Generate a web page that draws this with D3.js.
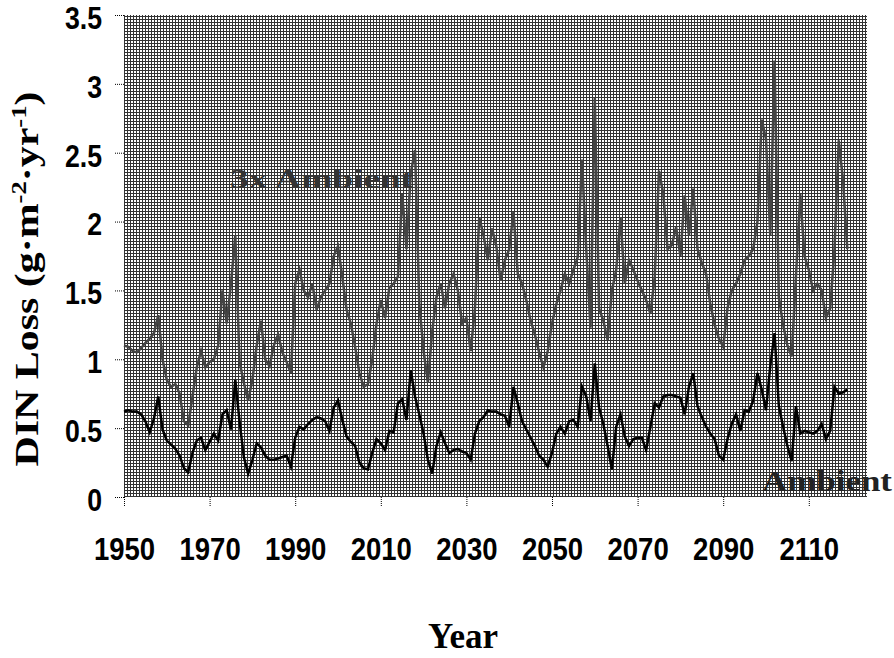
<!DOCTYPE html>
<html>
<head>
<meta charset="utf-8">
<script src="https://cdn.jsdelivr.net/npm/d3@7"></script>
<style>
  body { margin: 0; background: #fff; }
  svg { display: block; }
</style>
</head>
<body>
<div id="chart"></div>
<script>
// yearly DIN loss (1950 .. 2119)
var startYear = 1950;
var ambient = [
  .62, .63, .62, .62, .60, .55, .47, .57, .73, .49,
  .41, .38, .35, .30, .21, .18, .32, .41, .43, .34,
  .40, .46, .41, .60, .63, .49, .85, .55, .29, .17,
  .27, .39, .36, .30, .27, .27, .28, .29, .30, .22,
  .43, .51, .49, .53, .56, .58, .57, .55, .48, .65,
  .70, .56, .44, .40, .37, .25, .21, .20, .32, .42,
  .39, .34, .48, .47, .68, .71, .56, .92, .73, .60,
  .46, .27, .17, .37, .47, .39, .32, .34, .35, .33,
  .32, .27, .46, .55, .58, .63, .62, .62, .60, .59,
  .51, .80, .68, .55, .49, .43, .37, .30, .27, .22,
  .32, .46, .51, .46, .55, .56, .51, .80, .73, .55,
  .97, .65, .53, .37, .20, .51, .60, .44, .37, .42,
  .43, .43, .34, .51, .68, .65, .73, .74, .74, .73,
  .72, .60, .80, .90, .66, .58, .51, .46, .42, .30,
  .27, .42, .53, .60, .48, .63, .62, .70, .90, .78,
  .63, .95, 1.19, .66, .51, .37, .26, .66, .46, .48,
  .47, .46, .48, .53, .42, .48, .80, .75, .76, .78
];
var ambient3x = [
  1.10, 1.09, 1.06, 1.05, 1.08, 1.12, 1.15, 1.19, 1.32, 1.00,
  .85, .80, .82, .75, .55, .52, .73, .94, 1.06, .94,
  .98, 1.00, 1.10, 1.50, 1.26, 1.55, 1.90, .98, .83, .70,
  .85, 1.10, 1.28, 1.00, .95, 1.10, 1.18, 1.05, .98, .90,
  1.55, 1.65, 1.50, 1.45, 1.55, 1.36, 1.45, 1.50, 1.55, 1.75,
  1.82, 1.60, 1.36, 1.26, 1.09, .90, .80, .82, 1.00, 1.26,
  1.43, 1.30, 1.52, 1.55, 1.60, 2.20, 1.80, 2.35, 2.52, 1.40,
  1.06, .83, 1.20, 1.45, 1.55, 1.37, 1.55, 1.62, 1.50, 1.26,
  1.30, 1.06, 1.37, 2.03, 1.90, 1.72, 1.95, 1.82, 1.57, 1.72,
  1.80, 2.07, 1.62, 1.55, 1.43, 1.28, 1.18, 1.05, .94, 1.06,
  1.26, 1.40, 1.50, 1.62, 1.55, 1.65, 1.74, 2.45, 1.80, 1.23,
  2.90, 1.37, 1.28, 1.14, 1.50, 1.65, 2.03, 1.55, 1.72, 1.65,
  1.57, 1.50, 1.43, 1.33, 1.60, 2.37, 2.20, 1.80, 1.83, 1.96,
  1.75, 2.19, 1.90, 2.24, 1.80, 1.70, 1.62, 1.40, 1.25, 1.15,
  1.09, 1.37, 1.50, 1.55, 1.62, 1.72, 1.75, 1.80, 2.00, 2.74,
  2.60, 1.90, 3.17, 1.45, 1.25, 1.10, 1.02, 1.60, 2.20, 1.75,
  1.65, 1.50, 1.55, 1.50, 1.30, 1.37, 1.80, 2.59, 2.30, 1.80
];
var xTicks = [1950, 1970, 1990, 2010, 2030, 2050, 2070, 2090, 2110];
var yTicks = [0, 0.5, 1, 1.5, 2, 2.5, 3, 3.5];

var width = 894, height = 658;
var plotLeft = 124, plotRight = 867, plotTop = 15, plotBottom = 497;

var svg = d3.select("#chart").append("svg")
  .attr("width", width)
  .attr("height", height);

svg.append("rect").attr("width", width).attr("height", height).attr("fill", "#fff");

// stipple fill of the plot area
var pat = svg.append("defs").append("pattern")
  .attr("id", "stipple")
  .attr("patternUnits", "userSpaceOnUse")
  .attr("width", 3).attr("height", 3);
pat.append("rect").attr("width", 3).attr("height", 3).attr("fill", "#fff");
pat.append("rect").attr("x", 0).attr("y", 1).attr("width", 3).attr("height", 1).attr("fill", "#333");
pat.append("rect").attr("x", 1).attr("y", 0).attr("width", 1).attr("height", 3).attr("fill", "#333");

var x = d3.scaleLinear().domain([1950, 2123.6]).range([plotLeft, plotRight]);
var y = d3.scaleLinear().domain([0, 3.5]).range([plotBottom, plotTop]);

svg.append("rect")
  .attr("x", plotLeft).attr("y", plotTop)
  .attr("width", plotRight - plotLeft).attr("height", plotBottom - plotTop)
  .attr("fill", "url(#stipple)");

var line = d3.line()
  .x(function (d, i) { return x(startYear + i); })
  .y(function (d) { return y(d); });

svg.append("path")
  .datum(ambient3x)
  .attr("d", line)
  .attr("fill", "none")
  .attr("stroke", "#444")
  .attr("stroke-width", 2.5);

svg.append("path")
  .datum(ambient)
  .attr("d", line)
  .attr("fill", "none")
  .attr("stroke", "#000")
  .attr("stroke-width", 2.5);

// axes
var yAxis = svg.append("g")
  .attr("transform", "translate(" + plotLeft + ",0)")
  .call(d3.axisLeft(y).tickValues(yTicks).tickSize(9).tickPadding(13)
    .tickFormat(function (d) { return String(d); }));

var xAxis = svg.append("g")
  .attr("transform", "translate(0," + plotBottom + ")")
  .call(d3.axisBottom(x).tickValues(xTicks).tickSize(10).tickPadding(30)
    .tickFormat(d3.format("d")));

[yAxis, xAxis].forEach(function (g, k) {
  g.select(".domain").remove();
  g.selectAll(".tick line").attr("stroke", "#000").attr("stroke-dasharray", "1,1");
  g.selectAll(".tick text")
    .attr("fill", "#000")
    .style("font-family", "'Liberation Sans', Arial, sans-serif")
    .style("font-weight", "bold")
    .style("font-size", k === 0 ? "31px" : "32px")
    .each(function () {
      // the figure's digits are a little condensed
      var w = this.getComputedTextLength();
      d3.select(this).attr("textLength", w * 0.86).attr("lengthAdjust", "spacingAndGlyphs");
    });
});
yAxis.selectAll(".tick text").attr("dy", "0.43em");

// titles
var serif = "'Liberation Serif', 'Times New Roman', serif";

svg.append("text")
  .attr("x", 463).attr("y", 648)
  .attr("text-anchor", "middle")
  .style("font-family", serif).style("font-weight", "bold").style("font-size", "35px")
  .text("Year");

var yt = svg.append("text")
  .attr("transform", "translate(38,279) rotate(-90)")
  .attr("text-anchor", "middle")
  .attr("textLength", 375).attr("lengthAdjust", "spacingAndGlyphs")
  .style("font-family", serif).style("font-weight", "bold").style("font-size", "33px");
yt.append("tspan").text("DIN Loss (g\u00b7m");
yt.append("tspan").attr("dy", -12).style("font-size", "21px").text("-2");
yt.append("tspan").attr("dy", 12).text("\u00b7yr");
yt.append("tspan").attr("dy", -12).style("font-size", "21px").text("-1");
yt.append("tspan").attr("dy", 12).text(")");

svg.append("text")
  .attr("x", 230).attr("y", 188)
  .attr("textLength", 183).attr("lengthAdjust", "spacingAndGlyphs")
  .attr("fill", "#333")
  .style("font-family", serif).style("font-weight", "bold").style("font-size", "27px")
  .text("3x Ambient");

svg.append("text")
  .attr("x", 762).attr("y", 491)
  .attr("textLength", 130).attr("lengthAdjust", "spacingAndGlyphs")
  .attr("fill", "#222")
  .style("font-family", serif).style("font-weight", "bold").style("font-size", "29px")
  .text("Ambient");
</script>
</body>
</html>
